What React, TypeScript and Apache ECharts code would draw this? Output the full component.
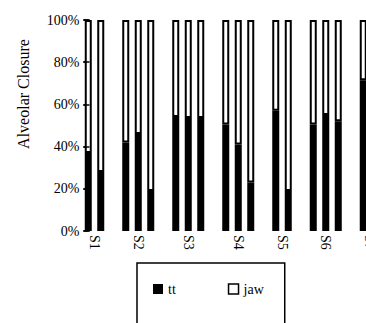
import React, { useEffect, useRef } from "react";
import * as echarts from "echarts";

const groupLabels = ["S1", "S2", "S3", "S4", "S5", "S6", "S7"];
const ttS1 = [37, 28];
const ttS2 = [42, 46, 19];
const ttS3 = [54, 53.5, 53.5];
const ttS4 = [50.5, 41, 23];
const ttS5 = [57, 19];
const ttS6 = [50.5, 55, 52];
const ttS7 = [71.5, null];
const groups = [ttS1, ttS2, ttS3, ttS4, ttS5, ttS6, ttS7];
const yTicks = [0, 20, 40, 60, 80, 100];
const yTitle = "Alveolar Closure";

const FONT = "'Liberation Serif', 'Times New Roman', serif";
const SLOT = 12.5;
const LEFT = 82;

export default function App() {
  const ref = useRef<HTMLDivElement>(null);
  useEffect(() => {
    document.body.style.margin = "0";
    if (!ref.current) return;
    const chart = echarts.init(ref.current, undefined, { renderer: "svg" });

    const cats: string[] = [];
    const tt: (number | string)[] = [];
    const jaw: (number | string)[] = [];
    const centers: { [k: string]: string } = {};
    groups.forEach((g, gi) => {
      const start = cats.length;
      g.forEach((v, bi) => {
        cats.push(groupLabels[gi] + "-" + (bi + 1));
        tt.push(v == null ? "-" : v);
        jaw.push(v == null ? "-" : 100 - (v as number));
      });
      const center = start + (g.length - 1) / 2;
      centers[center.toFixed(1)] = groupLabels[gi];
      if (gi < groups.length - 1) {
        cats.push("gap" + gi);
        tt.push("-");
        jaw.push("-");
      }
    });
    const n = cats.length;

    chart.setOption({
      animation: false,
      grid: { left: LEFT, right: 10, top: 20, bottom: 92, containLabel: false },
      graphic: [
        {
          type: "text",
          x: 23,
          y: 94,
          rotation: Math.PI / 2,
          style: {
            text: yTitle,
            fill: "#000",
            font: "16px " + FONT,
            textAlign: "center",
            textVerticalAlign: "middle",
          },
        },
      ],
      xAxis: [
        {
          type: "category",
          data: cats,
          axisLine: { show: false },
          axisTick: { show: false },
          axisLabel: { show: false },
        },
        {
          type: "value",
          min: -0.5,
          max: n - 0.5,
          interval: 0.5,
          position: "bottom",
          axisLine: { show: false },
          axisTick: { show: false },
          splitLine: { show: false },
          axisLabel: {
            rotate: -90,
            margin: 4,
            color: "#000",
            fontSize: 14,
            fontFamily: FONT,
            formatter: (val: number) => centers[val.toFixed(1)] || "",
          },
        },
      ],
      yAxis: [
        {
          type: "value",
          min: 0,
          max: 100,
          interval: 20,
          offset: -1.5,
          axisLine: { show: true, lineStyle: { color: "#000", width: 1.5 } },
          axisTick: { show: true, length: 5, lineStyle: { color: "#000", width: 1.5 } },
          splitLine: { show: false },
          axisLabel: {
            formatter: (v: number) => (yTicks.includes(v) ? v + "%" : ""),
            color: "#000",
            fontSize: 14,
            fontFamily: FONT,
            margin: 4,
          },
        },
        {
          type: "value",
          min: 0,
          max: 100,
          interval: 20,
          position: "left",
          offset: -1.5,
          z: 10,
          axisLine: { show: false },
          axisTick: { show: true, inside: true, length: 6, lineStyle: { color: "#000", width: 1.5 } },
          splitLine: { show: false },
          axisLabel: { show: false },
        },
      ],
      legend: {
        left: 137,
        top: 263,
        orient: "horizontal",
        padding: [19, 21, 60, 16],
        itemGap: 52,
        itemWidth: 10,
        itemHeight: 10,
        borderColor: "#000",
        borderWidth: 1.5,
        textStyle: { color: "#000", fontSize: 14, fontFamily: FONT },
        data: [
          { name: "tt", icon: "rect", itemStyle: { color: "#000", borderWidth: 0 } },
          { name: "jaw", icon: "rect", itemStyle: { color: "#fff", borderColor: "#000", borderWidth: 1.5 } },
        ],
      },
      series: [
        {
          name: "tt",
          type: "bar",
          stack: "all",
          barWidth: 7,
          data: tt,
          itemStyle: { color: "#000", borderColor: "#000", borderWidth: 2 },
        },
        {
          name: "jaw",
          type: "bar",
          stack: "all",
          barWidth: 7,
          data: jaw,
          itemStyle: { color: "#fff", borderColor: "#000", borderWidth: 2 },
        },
      ],
    });
    return () => chart.dispose();
  }, []);
  const chartWidth = LEFT + 24 * SLOT + 10;
  return (
    <div style={{ width: 366, height: 323, overflow: "hidden", position: "relative" }}>
      <div ref={ref} style={{ width: chartWidth, height: 323 }} />
    </div>
  );
}
